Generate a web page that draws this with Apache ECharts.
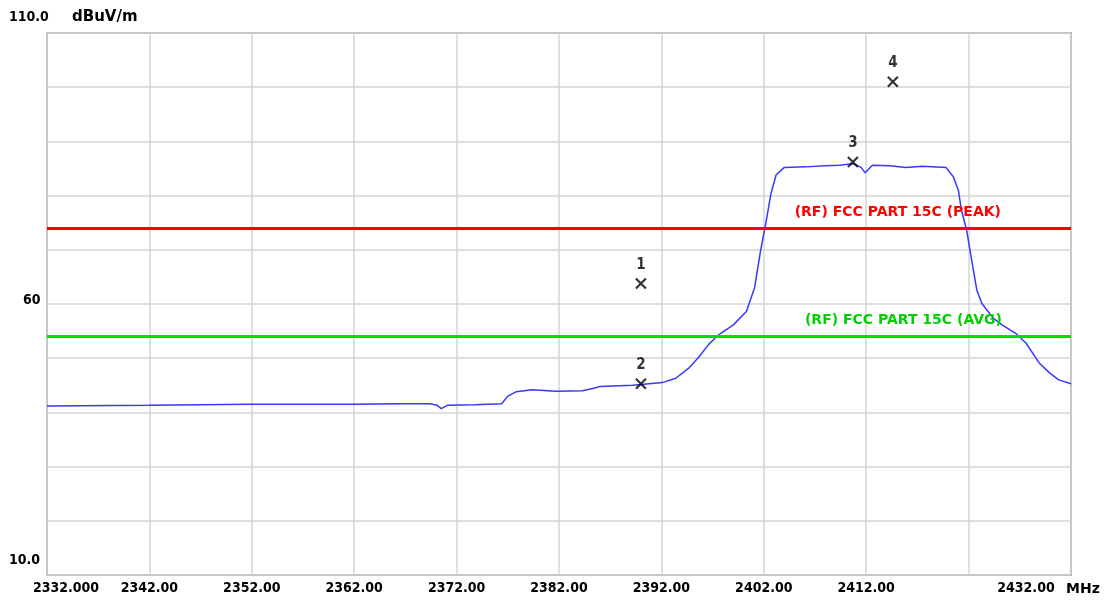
<!DOCTYPE html>
<html>
<head>
<meta charset="utf-8">
<script src="https://cdn.jsdelivr.net/npm/echarts@6/dist/echarts.min.js"></script>
<style>html,body{margin:0;padding:0;background:#fff}#c{width:1113px;height:601px}</style>
</head>
<body>
<div id="c"></div>
<script>
// ---- data ----
const xTickValues = [2332, 2342, 2352, 2362, 2372, 2382, 2392, 2402, 2412, 2422, 2432];
const xTickLabels = ['2332.000', '2342.00', '2352.00', '2362.00', '2372.00', '2382.00', '2392.00', '2402.00', '2412.00', '', '2432.00'];
const yTickValues = [110, 60, 10];
const yTickLabels = ['110.0', '60', '10.0'];

const traceFreqs = [2332, 2342, 2351.8, 2362, 2366.4, 2369.4, 2370.1, 2370.5, 2371.1, 2373.8, 2376.4, 2377.0, 2377.8, 2379.4, 2381.7, 2384.3, 2385.5, 2386.0, 2389.2, 2392.1, 2393.4, 2394.7, 2395.7, 2396.6, 2397.4, 2397.8, 2399.0, 2400.3, 2401.1, 2401.7, 2402.2, 2402.7, 2403.2, 2404.0, 2406.1, 2408.0, 2409.4, 2410.7, 2411.5, 2411.9, 2412.3, 2412.6, 2414.3, 2415.9, 2417.5, 2419.8, 2420.5, 2421.0, 2421.3, 2421.8, 2422.3, 2422.8, 2423.3, 2424.4, 2425.3, 2426.6, 2427.6, 2428.9, 2429.9, 2430.8, 2432];
const traceLevels = [41.2, 41.3, 41.5, 41.5, 41.6, 41.6, 41.3, 40.7, 41.3, 41.4, 41.6, 43.0, 43.8, 44.2, 43.9, 44.0, 44.5, 44.8, 45.0, 45.5, 46.3, 48.2, 50.3, 52.5, 54.0, 54.6, 56.1, 58.6, 63.0, 70.0, 74.9, 80.4, 83.8, 85.2, 85.3, 85.5, 85.6, 85.9, 85.2, 84.2, 85.0, 85.6, 85.5, 85.2, 85.4, 85.2, 83.5, 81.0, 77.3, 73.7, 68.1, 62.6, 60.1, 57.4, 56.1, 54.6, 52.8, 49.1, 47.3, 46.0, 45.3];

const peakLimit = 74;
const avgLimit = 54;
const peakLimitLabel = '(RF) FCC PART 15C (PEAK)';
const avgLimitLabel = '(RF) FCC PART 15C (AVG)';

const markerNames = ['1', '2', '3', '4'];
const markerFreqs = [2390, 2390, 2410.7, 2414.6];
const markerLevels = [63.8, 45.3, 86.2, 101.0];

// ---- chart ----
const font = '"DejaVu Sans Condensed", "DejaVu Sans", sans-serif';
const fontW = 'DejaVu Sans';
const chart = echarts.init(document.getElementById('c'), null, {renderer: 'canvas'});

const traceData = traceFreqs.map((f, i) => [f, traceLevels[i]]);
const markerData = markerFreqs.map((f, i) => ({value: [f, markerLevels[i]], name: markerNames[i]}));

const tickStyle = {fontFamily: font, fontWeight: 'bold', fontSize: 14, color: '#000'};

chart.setOption({
  animation: false,
  backgroundColor: '#ffffff',
  grid: {left: 47, right: 42, top: 33, bottom: 26, show: true, borderColor: '#a0a0a0', borderWidth: 2, backgroundColor: 'transparent'},
  xAxis: {
    type: 'value', min: 2332, max: 2432, interval: 10,
    name: 'MHz', nameLocation: 'end', nameGap: -5,
    nameTextStyle: {fontFamily: fontW, fontWeight: 'bold', fontSize: 14, color: '#000', align: 'left', verticalAlign: 'top', padding: [7, 0, 0, 0]},
    axisLine: {show: false}, axisTick: {show: false},
    splitLine: {show: true, lineStyle: {color: '#d4d4d4', width: 1.5}},
    axisLabel: Object.assign({
      show: true, showMinLabel: true, showMaxLabel: true, margin: 6,
      formatter: function (v) {
        const i = xTickValues.findIndex(t => Math.abs(t - v) < 1e-6);
        if (i < 0 || !xTickLabels[i]) return '';
        if (i === 0) return '{first|' + xTickLabels[i] + '}';
        if (i === xTickValues.length - 1) return '{last|' + xTickLabels[i] + '}';
        return xTickLabels[i];
      },
      rich: {
        first: Object.assign({}, tickStyle, {padding: [0, 0, 0, 38]}),
        last: Object.assign({}, tickStyle, {padding: [0, 90, 0, 0]})
      }
    }, tickStyle)
  },
  yAxis: {
    type: 'value', min: 10, max: 110, interval: 10,
    name: 'dBuV/m', nameLocation: 'end', nameGap: 16,
    nameTextStyle: {fontFamily: fontW, fontWeight: 'bold', fontSize: 15, color: '#000', align: 'left', verticalAlign: 'middle', padding: [0, 0, 0, 25]},
    axisLine: {show: false}, axisTick: {show: false},
    splitLine: {show: true, lineStyle: {color: '#d4d4d4', width: 1.5}},
    axisLabel: Object.assign({
      show: true, showMinLabel: true, showMaxLabel: true, margin: 38, align: 'left', verticalAlign: 'middle',
      formatter: function (v) {
        const i = yTickValues.findIndex(t => Math.abs(t - v) < 1e-6);
        if (i < 0) return '';
        return '{t' + i + '|' + yTickLabels[i] + '}';
      },
      rich: {
        t0: Object.assign({}, tickStyle, {padding: [0, 0, 31, 0]}),
        t1: Object.assign({}, tickStyle, {padding: [0, 0, 8, 14]}),
        t2: Object.assign({}, tickStyle, {padding: [0, 0, 29, 0]})
      }
    }, tickStyle)
  },
  series: [
    {
      type: 'line', data: traceData, showSymbol: false, smooth: false,
      lineStyle: {color: '#3838ff', width: 1.5}, z: 3,
      markLine: {
        silent: true, symbol: 'none', animation: false,
        data: [
          {yAxis: peakLimit, lineStyle: {color: '#ff0000', width: 3, type: 'solid'},
            label: {show: true, formatter: peakLimitLabel, position: 'insideEndTop', distance: 9, padding: [0, 61, 0, 0],
              fontFamily: fontW, fontWeight: 'bold', fontSize: 14, color: '#ff0000'}},
          {yAxis: avgLimit, lineStyle: {color: '#00e000', width: 3, type: 'solid'},
            label: {show: true, formatter: avgLimitLabel, position: 'insideEndTop', distance: 9, padding: [0, 60, 0, 0],
              fontFamily: fontW, fontWeight: 'bold', fontSize: 14, color: '#00d000'}}
        ]
      }
    },
    {
      type: 'scatter', data: markerData, z: 5,
      symbol: 'path://M0,0L10,10M10,0L0,10', symbolSize: [10, 10],
      itemStyle: {color: 'transparent', borderColor: '#000', borderWidth: 2.2},
      label: {show: true, position: 'top', distance: 5, formatter: p => p.name,
        fontFamily: font, fontWeight: 'bold', fontSize: 15, color: '#000'}
    }
  ]
});
</script>
</body>
</html>
